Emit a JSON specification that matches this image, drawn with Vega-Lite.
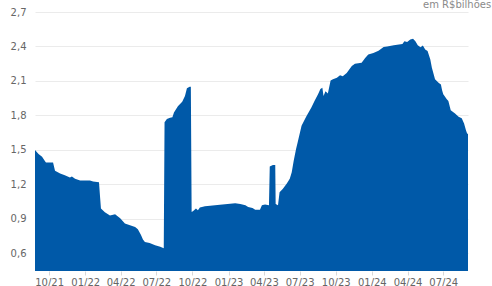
{
  "$schema": "https://vega.github.io/schema/vega-lite/v6.json",
  "width": 433,
  "height": 259,
  "autosize": {"type": "none"},
  "padding": {"left": 35, "top": 12, "right": 24, "bottom": 15},
  "background": "white",
  "title": {
    "text": "em R$bilhões",
    "anchor": "end",
    "align": "left",
    "dx": -45,
    "dy": 13,
    "offset": 2,
    "baseline": "alphabetic",
    "font": "DejaVu Sans",
    "fontSize": 10,
    "fontWeight": "normal",
    "color": "#8a8a8a"
  },
  "data": {
    "values": [
      {"d": "2021-08-26", "v": 1.50},
      {"d": "2021-09-04", "v": 1.465},
      {"d": "2021-09-13", "v": 1.44},
      {"d": "2021-09-21", "v": 1.40},
      {"d": "2021-09-23", "v": 1.39},
      {"d": "2021-10-11", "v": 1.39},
      {"d": "2021-10-16", "v": 1.32},
      {"d": "2021-10-29", "v": 1.295},
      {"d": "2021-11-10", "v": 1.28},
      {"d": "2021-11-23", "v": 1.26},
      {"d": "2021-11-28", "v": 1.27},
      {"d": "2021-12-06", "v": 1.25},
      {"d": "2021-12-19", "v": 1.235},
      {"d": "2022-01-13", "v": 1.235},
      {"d": "2022-01-21", "v": 1.225},
      {"d": "2022-02-05", "v": 1.22},
      {"d": "2022-02-08", "v": 1.08},
      {"d": "2022-02-10", "v": 0.99},
      {"d": "2022-02-20", "v": 0.957},
      {"d": "2022-03-05", "v": 0.93},
      {"d": "2022-03-18", "v": 0.94},
      {"d": "2022-03-31", "v": 0.905},
      {"d": "2022-04-12", "v": 0.86},
      {"d": "2022-04-25", "v": 0.845},
      {"d": "2022-05-08", "v": 0.83},
      {"d": "2022-05-15", "v": 0.81},
      {"d": "2022-05-23", "v": 0.76},
      {"d": "2022-05-28", "v": 0.72},
      {"d": "2022-06-02", "v": 0.70},
      {"d": "2022-06-14", "v": 0.69},
      {"d": "2022-06-28", "v": 0.67},
      {"d": "2022-07-11", "v": 0.657},
      {"d": "2022-07-20", "v": 0.645},
      {"d": "2022-07-22", "v": 1.74},
      {"d": "2022-07-28", "v": 1.77},
      {"d": "2022-08-05", "v": 1.78},
      {"d": "2022-08-11", "v": 1.785},
      {"d": "2022-08-15", "v": 1.825},
      {"d": "2022-08-25", "v": 1.88},
      {"d": "2022-09-05", "v": 1.92},
      {"d": "2022-09-12", "v": 1.97},
      {"d": "2022-09-17", "v": 2.036},
      {"d": "2022-09-24", "v": 2.05},
      {"d": "2022-09-27", "v": 2.05},
      {"d": "2022-09-29", "v": 0.96},
      {"d": "2022-10-03", "v": 0.968},
      {"d": "2022-10-10", "v": 0.99},
      {"d": "2022-10-15", "v": 0.975},
      {"d": "2022-10-20", "v": 1.0},
      {"d": "2022-11-02", "v": 1.01},
      {"d": "2022-11-15", "v": 1.015},
      {"d": "2022-12-10", "v": 1.024},
      {"d": "2023-01-05", "v": 1.032},
      {"d": "2023-01-18", "v": 1.037},
      {"d": "2023-01-31", "v": 1.03},
      {"d": "2023-02-13", "v": 1.018},
      {"d": "2023-02-20", "v": 1.003},
      {"d": "2023-03-03", "v": 0.995},
      {"d": "2023-03-10", "v": 0.98},
      {"d": "2023-03-22", "v": 0.98},
      {"d": "2023-03-27", "v": 1.018},
      {"d": "2023-04-04", "v": 1.025},
      {"d": "2023-04-14", "v": 1.02},
      {"d": "2023-04-16", "v": 1.357},
      {"d": "2023-04-24", "v": 1.37},
      {"d": "2023-04-30", "v": 1.37},
      {"d": "2023-05-01", "v": 1.03},
      {"d": "2023-05-07", "v": 1.02},
      {"d": "2023-05-11", "v": 1.133},
      {"d": "2023-05-19", "v": 1.16},
      {"d": "2023-05-29", "v": 1.205},
      {"d": "2023-06-06", "v": 1.25},
      {"d": "2023-06-11", "v": 1.306},
      {"d": "2023-06-16", "v": 1.407},
      {"d": "2023-06-22", "v": 1.508},
      {"d": "2023-06-26", "v": 1.565},
      {"d": "2023-07-06", "v": 1.71},
      {"d": "2023-07-18", "v": 1.79},
      {"d": "2023-07-31", "v": 1.87},
      {"d": "2023-08-08", "v": 1.926},
      {"d": "2023-08-17", "v": 1.984},
      {"d": "2023-08-23", "v": 2.03},
      {"d": "2023-08-28", "v": 2.04},
      {"d": "2023-08-31", "v": 1.97},
      {"d": "2023-09-05", "v": 2.01},
      {"d": "2023-09-11", "v": 1.99},
      {"d": "2023-09-18", "v": 2.105},
      {"d": "2023-09-24", "v": 2.114},
      {"d": "2023-10-04", "v": 2.128},
      {"d": "2023-10-12", "v": 2.15},
      {"d": "2023-10-19", "v": 2.142},
      {"d": "2023-10-29", "v": 2.17},
      {"d": "2023-11-11", "v": 2.23},
      {"d": "2023-11-19", "v": 2.25},
      {"d": "2023-12-06", "v": 2.258},
      {"d": "2023-12-15", "v": 2.30},
      {"d": "2023-12-23", "v": 2.33},
      {"d": "2024-01-05", "v": 2.344},
      {"d": "2024-01-18", "v": 2.364},
      {"d": "2024-01-31", "v": 2.396},
      {"d": "2024-02-09", "v": 2.40},
      {"d": "2024-02-26", "v": 2.41},
      {"d": "2024-03-10", "v": 2.417},
      {"d": "2024-03-19", "v": 2.422},
      {"d": "2024-03-24", "v": 2.445},
      {"d": "2024-03-31", "v": 2.44},
      {"d": "2024-04-08", "v": 2.46},
      {"d": "2024-04-15", "v": 2.468},
      {"d": "2024-04-21", "v": 2.445},
      {"d": "2024-04-27", "v": 2.41},
      {"d": "2024-05-04", "v": 2.393},
      {"d": "2024-05-10", "v": 2.408},
      {"d": "2024-05-16", "v": 2.373},
      {"d": "2024-05-22", "v": 2.36},
      {"d": "2024-05-29", "v": 2.287},
      {"d": "2024-06-02", "v": 2.214},
      {"d": "2024-06-10", "v": 2.114},
      {"d": "2024-06-19", "v": 2.085},
      {"d": "2024-06-25", "v": 2.07},
      {"d": "2024-06-28", "v": 2.02},
      {"d": "2024-07-01", "v": 1.984},
      {"d": "2024-07-10", "v": 1.94},
      {"d": "2024-07-14", "v": 1.926},
      {"d": "2024-07-20", "v": 1.846},
      {"d": "2024-07-31", "v": 1.816},
      {"d": "2024-08-09", "v": 1.788},
      {"d": "2024-08-17", "v": 1.776},
      {"d": "2024-08-23", "v": 1.73},
      {"d": "2024-08-28", "v": 1.67},
      {"d": "2024-08-31", "v": 1.64},
      {"d": "2024-09-02", "v": 1.64}
    ]
  },
  "mark": {"type": "area", "color": "#0059a8", "interpolate": "linear", "clip": true},
  "encoding": {
    "x": {
      "field": "d",
      "type": "temporal",
      "title": null,
      "scale": {"type": "utc", "domain": [{"year": 2021, "month": 8, "date": 26, "utc": true}, {"year": 2024, "month": 9, "date": 2, "utc": true}]},
      "axis": {
        "values": [
          {"year": 2021, "month": 10, "date": 1, "utc": true},
          {"year": 2022, "month": 1, "date": 1, "utc": true},
          {"year": 2022, "month": 4, "date": 1, "utc": true},
          {"year": 2022, "month": 7, "date": 1, "utc": true},
          {"year": 2022, "month": 10, "date": 1, "utc": true},
          {"year": 2023, "month": 1, "date": 1, "utc": true},
          {"year": 2023, "month": 4, "date": 1, "utc": true},
          {"year": 2023, "month": 7, "date": 1, "utc": true},
          {"year": 2023, "month": 10, "date": 1, "utc": true},
          {"year": 2024, "month": 1, "date": 1, "utc": true},
          {"year": 2024, "month": 4, "date": 1, "utc": true},
          {"year": 2024, "month": 7, "date": 1, "utc": true}
        ],
        "labelExpr": "utcFormat(datum.value, '%m/%y')",
        "grid": false,
        "domain": false,
        "ticks": true,
        "tickSize": 4,
        "tickColor": "#d8d8d8",
        "labelPadding": 2,
        "labelFont": "DejaVu Sans",
        "labelFontSize": 10,
        "labelColor": "#666666",
        "labelOverlap": false,
        "labelFlush": false
      }
    },
    "y": {
      "field": "v",
      "type": "quantitative",
      "title": null,
      "scale": {"domain": [0.447, 2.7], "nice": false, "zero": false},
      "axis": {
        "values": [0.6, 0.9, 1.2, 1.5, 1.8, 2.1, 2.4, 2.7],
        "labelExpr": "replace(format(datum.value, '.1f'), '.', ',')",
        "grid": true,
        "gridColor": "#ebebeb",
        "gridWidth": 1,
        "domain": false,
        "ticks": false,
        "labelPadding": 9,
        "labelFont": "DejaVu Sans",
        "labelFontSize": 10,
        "labelColor": "#666666"
      }
    }
  },
  "config": {
    "view": {"stroke": null}
  }
}
